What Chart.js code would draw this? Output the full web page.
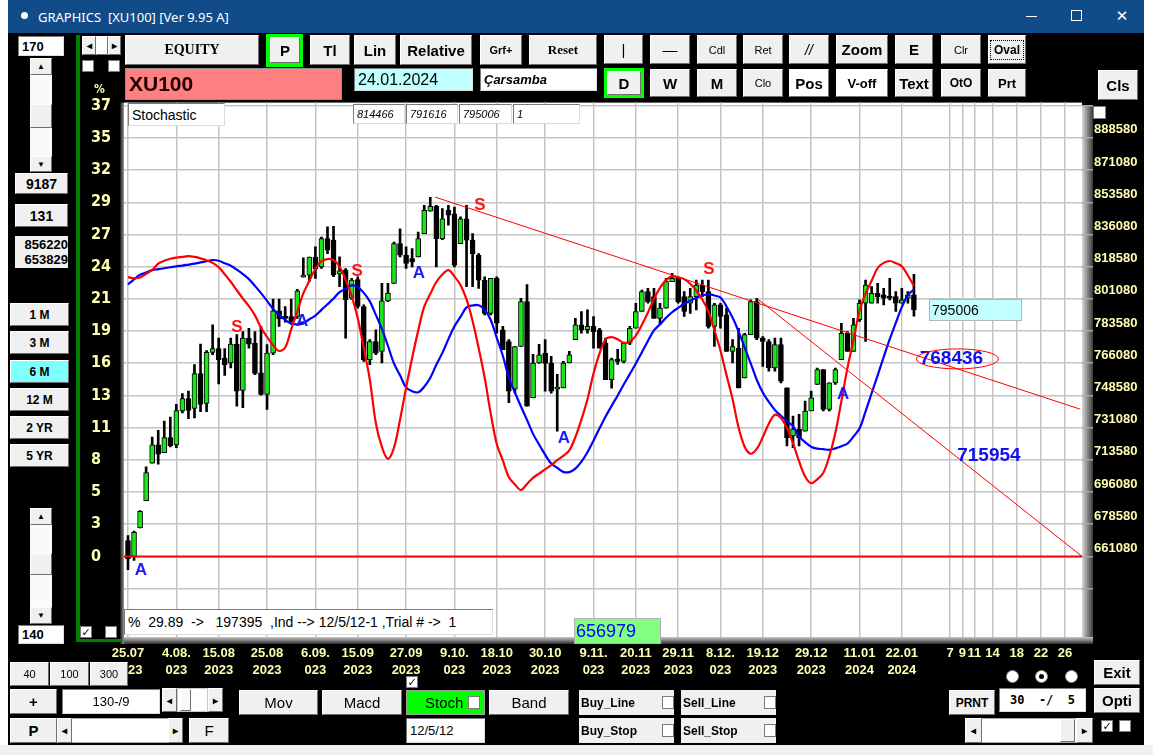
<!DOCTYPE html>
<html>
<head>
<meta charset="utf-8">
<script src="https://cdn.jsdelivr.net/npm/chart.js@4.4.1/dist/chart.umd.min.js"></script>
<style>
    body { margin: 0; width: 1153px; height: 755px; position: relative; overflow: hidden; background: #fff; }
    .b, .i, .p, .c, .r { position: absolute; box-sizing: border-box; display: flex; align-items: center; justify-content: center; white-space: pre; overflow: hidden; }
    .b { background: #f0f0f0; border: 1px solid; border-color: #fff #6e6e6e #6e6e6e #fff; font: bold 14px "Liberation Sans", Arial, sans-serif; color: #000; }
    .i { background: #fff; border: 1px solid; border-color: #7a7a7a #dcdcdc #dcdcdc #7a7a7a; font: 13px "Liberation Sans", Arial, sans-serif; justify-content: flex-start; padding-left: 3px; color: #000; }
    .p { font: 14px "Liberation Sans", Arial, sans-serif; }
    .c { background: #fff; border: 1px solid #7a7a7a; font: bold 11px "DejaVu Sans", sans-serif; }
    .r { background: #fff; border: 1px solid #8a8a8a; border-radius: 50%; }
    #app { position: absolute; left: 8px; top: 33px; width: 1136px; height: 712px; background: #000; }
    #grafico { position: absolute; left: 91px; top: 90px; }
</style>
</head>
<body>
<div id="app"></div>
<canvas id="grafico" width="1052" height="590"></canvas>
<script>
// --- DADOS (XU100, diário, 25.07.2023 - 24.01.2024) ---
const opens = [669700,661100,676600,691400,711800,721700,717500,725600,721700,740100,
    746900,741500,760500,744200,772000,774000,768900,766200,776500,751300,
    779700,777000,760800,749100,771600,794500,791500,791500,791500,812900,
    814000,823800,818500,833800,833000,814600,816700,801400,811600,796900,
    768000,777900,772500,800000,809500,831100,824800,823000,823900,836500,
    848800,851400,833800,849200,847300,831100,844600,833000,824800,811300,
    793200,812200,784300,777900,752000,775200,799600,747300,766200,771600,
    766000,752000,752700,766200,778900,787000,784300,786100,784300,777000,
    757200,768000,767100,777000,785100,794200,805000,802300,790500,796000,
    810400,812200,802300,798700,802300,808600,805000,786100,797800,792400,
    772500,774300,758100,781600,799600,779700,777900,763500,776200,752700,
    726500,730300,729200,740100,754500,762600,741000,755400,768000,782400,
    772500,789700,798700,798700,804100,803200,802300,802300,798700,801400,
    803200];
const highs = [672400,674800,686000,709800,726000,729600,734700,736800,743700,749600,
    750900,765300,776500,772900,787000,779700,774000,779700,781600,783300,
    785100,783300,786100,776200,801000,801000,796900,801000,806200,823400,
    823800,829300,834700,840200,840500,823900,817600,812200,813100,797800,
    778900,784300,809500,809500,832000,839200,829300,828400,837400,851900,
    856220,851900,850100,851900,851000,845600,851900,836500,825700,813100,
    812200,813100,786100,778900,775200,801400,808800,770900,776300,778900,
    769800,760100,767100,772500,790500,794200,795100,791500,785100,779700,
    768900,773600,776200,786100,798700,805900,806800,806800,798700,812200,
    814900,813100,805000,806800,811300,811300,811300,798700,798700,796000,
    778900,785100,782400,800500,801400,780600,778900,779700,779700,752700,
    737400,738300,745500,750900,763500,762600,755400,763500,787800,783300,
    790500,800500,811300,807700,809500,806800,812200,805000,806800,805000,
    814466];
const lows = [653829,658900,676600,691400,711800,711200,717500,720600,720200,739100,
    735900,736400,739700,739700,770700,754800,759400,763500,742800,741900,
    774300,759900,748700,741000,770700,786100,788400,788400,790500,812900,
    810400,812200,817600,825700,813100,807700,779700,800800,796000,767100,
    765300,770700,766200,799600,809500,823900,817600,818500,823900,836500,
    848800,818500,833300,841100,818500,831100,807700,807700,806800,792400,
    792400,782400,773400,744600,750000,775200,742800,747300,766000,750900,
    749800,729200,752700,766200,778900,782400,782400,774300,774300,757200,
    752500,765500,766200,776200,785100,794200,798700,790500,787000,796000,
    810400,798700,791500,793200,795100,802300,785100,775200,785100,772500,
    766200,752700,758100,781600,778900,764400,761700,761700,755400,721100,
    720200,721100,729200,740100,754500,740100,740100,754500,768000,772500,
    772500,788800,777900,798700,798700,797800,800500,794200,798700,798700,
    791616];
const closes = [659800,674200,685600,706700,721700,716600,725600,721100,740400,746900,
    740400,760500,743700,772000,774000,768000,765300,776500,750900,779700,
    776500,760500,749100,771600,794500,790200,790500,788800,805500,814000,
    823800,817300,833800,827500,814000,816300,800500,811300,796900,768000,
    777900,771600,800000,804100,831100,824800,820300,821200,833800,849200,
    851400,833800,844600,846500,819400,844600,833000,825700,811300,793200,
    812200,787800,773400,750900,775200,799600,742800,766200,770700,766000,
    750900,753100,766200,770700,787000,784300,786100,783300,774300,757200,
    768000,767100,777000,785100,794200,805000,799600,790500,796000,810400,
    812200,799600,794200,802300,808600,805000,786100,797800,791500,772500,
    775200,752700,781600,799600,779700,777900,763500,776200,756300,725600,
    730300,725600,740100,747300,762600,741000,755400,762600,782400,772500,
    787000,798700,808600,804100,802300,801400,801400,798700,800500,803200,
    795006];

// Stochastic 12/5/12 (%K vermelho, %D azul)
const stochK = [90.4,90.0,90.3,91.8,93.4,96.0,97.2,98.0,98.5,98.8,
    99.1,98.8,98.2,97.4,96.3,94.5,91.6,88.5,85.0,81.6,
    78.4,74.6,69.5,65.7,62.3,59.9,61.3,68.9,76.1,83.7,
    88.9,93.9,97.0,97.9,97.5,94.7,89.3,82.7,73.5,61.1,
    48.1,30.0,20.2,15.3,19.9,31.5,44.7,57.0,68.3,78.2,
    83.5,88.4,91.5,93.3,90.7,87.2,81.2,72.3,61.1,48.8,
    34.0,21.4,14.6,7.7,4.7,2.4,4.9,7.4,9.2,10.9,
    12.7,14.7,16.5,18.8,24.3,31.5,39.9,50.6,58.9,64.7,
    65.6,64.7,63.3,63.7,66.2,70.7,75.8,81.5,86.0,89.2,
    90.8,90.3,89.6,87.7,84.9,81.2,76.2,68.5,60.1,49.9,
    40.0,28.2,20.3,17.4,19.4,24.2,29.8,33.5,32.2,28.0,
    21.7,14.3,8.0,5.2,6.8,9.4,16.3,26.0,39.1,52.8,
    64.4,76.5,83.6,88.9,94.2,96.3,97.1,96.2,94.9,91.1,
    86.8];
const stochD = [87.4,89.5,91.4,92.3,93.3,93.7,94.1,94.5,94.9,95.2,
    95.6,96.0,96.5,97.0,97.5,97.2,96.2,95.1,93.5,91.7,
    89.6,86.8,83.8,80.6,77.3,74.9,72.7,71.2,70.9,71.3,
    73.0,74.5,76.9,79.2,81.6,84.2,85.6,87.0,86.4,83.9,
    80.4,74.8,69.0,62.0,54.7,49.8,44.8,43.2,42.8,45.1,
    48.8,54.2,59.1,64.8,70.1,74.0,77.9,78.7,78.8,76.9,
    72.7,65.3,57.9,48.9,42.7,36.9,31.4,25.6,21.2,17.0,
    13.3,11.6,9.9,9.8,11.2,14.1,18.0,22.8,27.9,32.8,
    37.2,41.5,46.0,50.3,54.7,59.3,64.0,68.4,70.9,73.6,
    75.9,77.7,79.4,80.7,81.8,82.8,83.4,82.8,82.0,78.3,
    73.7,67.9,61.4,54.8,48.0,42.7,38.8,35.5,33.1,30.9,
    28.8,24.5,22.2,20.3,19.5,19.3,19.0,19.6,20.5,21.6,
    24.5,27.8,34.9,42.4,49.8,57.4,64.8,71.5,78.0,83.0,
    85.2];

// eixos
const priceTicks = [643580,661080,678580,696080,713580,731080,748580,766080,783580,801080,818580,836080,853580,871080,888580,906080];
const pctLabels = ['','0','3','5','8','11','13','16','19','21','24','27','29','32','35','37'];
const xTickIdx = [0,8,15,23,31,38,46,54,61,69,77,84,91,98,105,113,121,128,136,138,140,143,147,151,155];
const xTickTop = ['25.07','4.08.','15.08','25.08','6.09.','15.09','27.09','9.10.','18.10','30.10','9.11.','20.11','29.11','8.12.','19.12','29.12','11.01','22.01','7','9','11','14','18','22','26'];
const xTickBottom = ['2023','023','2023','2023','023','2023','2023','023','2023','2023','023','2023','2023','023','2023','2023','2024','2024','','','','','','',''];

// sinais S / A
const sigIdx = [2.15, 18, 28.8, 37.9, 48.1, 58.2, 72.1, 96.1, 118.3];
const sigPrice = [653500, 785500, 788800, 816300, 814700, 852000, 725500, 816900, 749300];
const sigText = ['A','S','A','S','A','S','A','S','A'];

// linhas de tendência
const trend1X = [50.8, 157.5], trend1Y = [856400, 741100];
const trend2X = [104, 157.8], trend2Y = [801400, 661080];
const baseLevel = 661080;
const projVals = [768436, 715954];
const projIdx = [136.2, 142.4];
const lastBoxIdx = 132.5;

const narrow = '"Liberation Sans Narrow", "Arial Narrow", "DejaVu Sans Condensed", sans-serif';
const plain = '"Liberation Sans", Arial, sans-serif';
const yellow = '#ffffb0';

// --- FUNDO DO GRÁFICO ---
const fundoPlugin = {
    id: 'fundo',
    beforeDraw(chart) {
        const { ctx, chartArea: a } = chart;
        ctx.save();
        ctx.fillStyle = '#fff';
        ctx.fillRect(a.left, a.top, a.right - a.left, a.bottom - a.top);
        let g = ctx.createLinearGradient(a.right, 0, a.right + 11, 0);
        g.addColorStop(0, '#d8d8d8'); g.addColorStop(1, '#3a3a3a');
        ctx.fillStyle = g;
        ctx.fillRect(a.right, a.top + 3, 11, a.bottom - a.top + 3);
        g = ctx.createLinearGradient(0, a.bottom, 0, a.bottom + 7);
        g.addColorStop(0, '#c8c8c8'); g.addColorStop(1, '#303030');
        ctx.fillStyle = g;
        ctx.fillRect(a.left, a.bottom, a.right - a.left + 11, 7);
        g = ctx.createLinearGradient(a.left - 4, 0, a.left, 0);
        g.addColorStop(0, '#111'); g.addColorStop(1, '#9a9a9a');
        ctx.fillStyle = g;
        ctx.fillRect(a.left - 4, a.top, 4, a.bottom - a.top + 7);
        ctx.restore();
    }
};

// --- TEXTOS SOBRE O GRÁFICO ---
const notasPlugin = {
    id: 'notas',
    afterDatasetsDraw(chart) {
        const { ctx, scales: { x, y } } = chart;
        ctx.save();
        ctx.textAlign = 'center';
        ctx.textBaseline = 'middle';
        ctx.font = 'bold 17px ' + plain;
        sigText.forEach((t, k) => {
            ctx.fillStyle = t === 'S' ? '#ff1414' : '#1c1cff';
            ctx.fillText(t, x.getPixelForValue(sigIdx[k]), y.getPixelForValue(sigPrice[k]));
        });
        ctx.font = 'bold 19px ' + plain;
        ctx.fillStyle = '#1010f0';
        projVals.forEach((v, k) => ctx.fillText(String(v), x.getPixelForValue(projIdx[k]), y.getPixelForValue(v)));
        const ox = x.getPixelForValue(projIdx[0]) + 6, oy = y.getPixelForValue(projVals[0]);
        ctx.strokeStyle = '#ff0000';
        ctx.lineWidth = 1;
        ctx.beginPath();
        ctx.ellipse(ox, oy, 41, 10, 0, 0, Math.PI * 2);
        ctx.stroke();
        const last = closes[closes.length - 1];
        const bx = x.getPixelForValue(lastBoxIdx), by = y.getPixelForValue(last);
        ctx.fillStyle = '#c4ffff';
        ctx.fillRect(bx, by - 11, 93, 22);
        ctx.strokeStyle = '#b4b4b4';
        ctx.strokeRect(bx + 0.5, by - 10.5, 92, 21);
        ctx.fillStyle = '#000';
        ctx.textAlign = 'left';
        ctx.font = '14px ' + plain;
        ctx.fillText(String(last), bx + 3, by + 1);
        ctx.restore();
    }
};

const isUp = i => closes[i] >= opens[i];
const idx = opens.map((_, i) => i);

new Chart(document.getElementById('grafico').getContext('2d'), {
    type: 'bar',
    data: {
        datasets: [
            { type: 'line', data: trend1X.map((v, k) => ({ x: v, y: trend1Y[k] })), yAxisID: 'y', borderColor: '#ff0000', borderWidth: 1, pointRadius: 0, order: 0 },
            { type: 'line', data: trend2X.map((v, k) => ({ x: v, y: trend2Y[k] })), yAxisID: 'y', borderColor: '#ff0000', borderWidth: 1, pointRadius: 0, order: 0 },
            { type: 'line', data: [{ x: -1, y: baseLevel }, { x: 160, y: baseLevel }], yAxisID: 'y', borderColor: '#ff0000', borderWidth: 2, pointRadius: 0, order: 0 },
            { type: 'line', data: stochK.map((v, i) => ({ x: i, y: v })), yAxisID: 'ys', borderColor: '#ff0000', borderWidth: 2.2, pointRadius: 0, tension: 0.35, order: 1 },
            { type: 'line', data: stochD.map((v, i) => ({ x: i, y: v })), yAxisID: 'ys', borderColor: '#0000ff', borderWidth: 2.2, pointRadius: 0, tension: 0.35, order: 1 },
            {
                data: idx.map(i => ({ x: i, y: [opens[i], closes[i]] })), yAxisID: 'y',
                barThickness: 5, grouped: false, minBarLength: 2, borderSkipped: false,
                backgroundColor: c => isUp(c.dataIndex) ? '#18e618' : '#000',
                borderColor: '#000', borderWidth: 1, order: 2
            },
            {
                data: idx.map(i => ({ x: i, y: [lows[i], highs[i]] })), yAxisID: 'y',
                barThickness: 2, grouped: false, backgroundColor: '#000', order: 3
            }
        ]
    },
    options: {
        responsive: false,
        animation: false,
        devicePixelRatio: 1,
        layout: { padding: { top: 10 } },
        plugins: { legend: { display: false }, tooltip: { enabled: false } },
        scales: {
            x: {
                type: 'linear', min: -0.66, max: 157.8, offset: false,
                afterBuildTicks: s => { s.ticks = xTickIdx.map(v => ({ value: v })); },
                afterFit: s => { s.height = 43; },
                grid: { color: '#c4c4c4', lineWidth: 1.5, drawTicks: false, offset: false },
                border: { display: false },
                ticks: {
                    autoSkip: false, maxRotation: 0, minRotation: 0, padding: 8, color: yellow,
                    font: { family: plain, size: 13, weight: 'bold', lineHeight: 1.3 },
                    callback: (v, i) => xTickBottom[i] ? [xTickTop[i], xTickBottom[i]] : xTickTop[i]
                }
            },
            y: {
                position: 'right', min: 617262, max: 907758,
                afterBuildTicks: s => { s.ticks = priceTicks.map(v => ({ value: v })); },
                afterFit: s => { s.width = 61; },
                grid: { color: '#c4c4c4', lineWidth: 1.5, tickLength: 11, tickColor: '#a8a8a8' },
                border: { display: false },
                ticks: {
                    color: yellow, padding: 1, labelOffset: -8,
                    font: { family: plain, size: 13, weight: 'bold' },
                    callback: (v, i) => (i === 0 || i === priceTicks.length - 1) ? '' : String(v)
                }
            },
            yl: {
                position: 'left', min: 617262, max: 907758,
                afterBuildTicks: s => { s.ticks = priceTicks.map(v => ({ value: v })); },
                afterFit: s => { s.width = 33; },
                grid: { display: false },
                border: { display: false },
                ticks: {
                    color: yellow, crossAlign: 'far',
                    font: { family: narrow, size: 16, weight: 'bold' },
                    callback: (v, i) => pctLabels[i]
                }
            },
            ys: { display: false, min: -58.4, max: 162.6 }
        }
    },
    plugins: [fundoPlugin, notasPlugin]
});

// --- JANELA E BOTÕES ---
function caixa(tipo, texto, x, y, w, h, css) {
    const d = document.createElement('div');
    d.className = tipo;
    d.innerHTML = texto;
    d.style.cssText += `left:${x}px;top:${y}px;width:${w}px;height:${h}px;` + (css || '');
    document.body.appendChild(d);
}
const f11 = 'font:11px "Liberation Sans",Arial,sans-serif;';
const f15 = 'font-size:15px;';
const serif = 'font:bold 14px "Liberation Serif",serif;';
const lbl = 'background:#f0f0f0;font:bold 12px "Liberation Sans",Arial,sans-serif;justify-content:flex-start;padding-left:2px';
const ital = 'font:italic 11px "Liberation Sans",Arial,sans-serif';
const ui = [
    // barra de título
    ['p', '', 8, 0, 1136, 33, 'background:#124c88'],
    ['p', '', 21, 12, 7, 7, 'background:#fff;border-radius:50%'],
    ['p', 'GRAPHICS  [XU100] [Ver 9.95 A]', 38, 7, 300, 20, 'color:#fff;font:13px "Noto Sans",sans-serif;justify-content:flex-start'],
    ['p', '', 1026, 16, 11, 1, 'background:#fff'],
    ['p', '', 1071, 10, 11, 11, 'border:1px solid #fff'],
    ['p', '✕', 1113, 5, 18, 22, 'color:#fff;font:15px "DejaVu Sans",sans-serif'],
    // painel esquerdo
    ['i', '170', 18, 36, 46, 20, 'font-weight:bold'],
    ['p', '', 30, 58, 22, 114, 'background:#fafafa'],
    ['b', '▲', 30, 58, 22, 17, 'font-size:8px'],
    ['b', '', 30, 104, 22, 24, ''],
    ['b', '▼', 30, 156, 22, 16, 'font-size:8px'],
    ['b', '9187', 15, 173, 53, 21, ''],
    ['b', '131', 15, 204, 53, 23, ''],
    ['p', '856220\n653829', 15, 236, 53, 32, 'background:#f0f0f0;font:bold 13px "Liberation Sans",Arial,sans-serif;display:block;text-align:right;line-height:15px;padding-top:1px'],
    ['b', '1 M', 10, 303, 59, 23, 'font-size:12px'],
    ['b', '3 M', 10, 331, 59, 23, 'font-size:12px'],
    ['b', '6 M', 10, 360, 59, 23, 'font-size:12px;background:#80ffff'],
    ['b', '12 M', 10, 388, 59, 23, 'font-size:12px'],
    ['b', '2 YR', 10, 416, 59, 23, 'font-size:12px'],
    ['b', '5 YR', 10, 444, 59, 23, 'font-size:12px'],
    ['p', '', 30, 508, 22, 116, 'background:#fafafa'],
    ['b', '▲', 30, 508, 22, 17, 'font-size:8px'],
    ['b', '', 30, 553, 22, 22, ''],
    ['b', '▼', 30, 607, 22, 17, 'font-size:8px'],
    ['i', '140', 18, 625, 46, 19, 'font-weight:bold'],
    ['p', '', 76, 35, 4, 607, 'background:#008000'],
    ['p', '', 76, 639, 46, 3, 'background:#008000'],
    ['b', '◂', 82, 36, 14, 19, 'font-size:10px'],
    ['b', '', 96, 36, 12, 19, 'background:#fff'],
    ['b', '▸', 108, 36, 13, 19, 'font-size:10px'],
    ['c', '', 82, 60, 12, 12, ''],
    ['c', '', 108, 60, 12, 12, ''],
    ['p', '%', 93, 83, 13, 12, `color:${yellow};font:bold 12px ${narrow}`],
    // barra de ferramentas
    ['b', 'EQUITY', 125, 35, 134, 30, serif],
    ['p', '', 266, 34, 37, 33, 'background:#00ff00'],
    ['b', 'P', 270, 37, 30, 26, f15],
    ['b', 'Tl', 310, 35, 40, 30, f15],
    ['b', 'Lin', 354, 35, 42, 30, f15],
    ['b', 'Relative', 400, 35, 72, 30, f15],
    ['b', 'Grf+', 480, 35, 42, 30, 'font-size:11px'],
    ['b', 'Reset', 529, 35, 68, 30, 'font:bold 13px "Liberation Serif",serif'],
    ['b', '|', 604, 35, 39, 29, 'font-weight:normal;' + f15],
    ['b', '—', 650, 35, 40, 29, 'font-weight:normal;' + f15],
    ['b', 'Cdl', 697, 35, 40, 29, f11],
    ['b', 'Ret', 743, 35, 40, 29, f11],
    ['b', '//', 789, 35, 40, 29, 'font:italic 14px "Liberation Sans",Arial,sans-serif'],
    ['b', 'Zoom', 836, 35, 52, 29, f15],
    ['b', 'E', 895, 35, 38, 29, f15],
    ['b', 'Clr', 941, 35, 40, 29, f11],
    ['b', '<span style="outline:1px dotted #000;padding:2px 3px">Oval</span>', 988, 35, 38, 29, 'font-size:12px'],
    ['p', 'XU100', 125, 68, 217, 32, 'background:#ff8080;border:1px solid #909090;font:bold 21px "Liberation Sans",Arial,sans-serif;color:#200;justify-content:flex-start;padding-left:3px'],
    ['i', '24.01.2024', 354, 68, 119, 23, 'background:#c0ffff;font-size:16px'],
    ['i', 'Çarsamba', 480, 68, 117, 23, 'font:bold italic 13px "Liberation Sans",Arial,sans-serif'],
    ['p', '', 604, 68, 40, 30, 'background:#00ff00'],
    ['b', 'D', 607, 71, 34, 24, f15],
    ['b', 'W', 650, 69, 40, 28, f15],
    ['b', 'M', 697, 69, 40, 28, f15],
    ['b', 'Clo', 743, 69, 40, 28, f11],
    ['b', 'Pos', 789, 69, 40, 28, 'background:#fff;' + f15],
    ['b', 'V-off', 836, 69, 52, 28, 'background:#fff;font-size:13px'],
    ['b', 'Text', 895, 69, 38, 28, f15],
    ['b', 'OtO', 941, 69, 40, 28, 'font-size:12px'],
    ['b', 'Prt', 988, 69, 38, 28, 'font-size:13px'],
    ['b', 'Cls', 1098, 70, 40, 30, f15],
    // caixas sobre o gráfico
    ['i', 'Stochastic', 128, 103, 97, 23, 'font-size:14px'],
    ['i', '814466', 353, 104, 52, 20, ital],
    ['i', '791616', 406, 104, 52, 20, ital],
    ['i', '795006', 459, 104, 53, 20, ital],
    ['i', '1', 513, 104, 67, 20, ital],
    ['c', '', 1093, 106, 13, 13, ''],
    ['p', '', 1106, 100, 37, 23, 'background:#000'],
    ['i', '%  29.89  ->   197395  ,Ind --> 12/5/12-1 ,Trial # ->  1', 124, 609, 369, 26, 'font-size:14px'],
    ['p', '656979', 574, 618, 87, 26, 'background:#80ff80;border:1px solid #b0b0b0;color:#0000ff;font:18px "Liberation Sans",Arial,sans-serif;justify-content:flex-start;padding-left:1px'],
    ['c', '✓', 80, 626, 12, 12, ''],
    ['c', '', 105, 626, 12, 12, ''],
    // parte inferior
    ['b', '40', 10, 662, 39, 24, f11],
    ['b', '100', 50, 662, 39, 24, f11],
    ['b', '300', 90, 662, 38, 24, f11],
    ['b', '+', 10, 689, 47, 25, f15],
    ['i', '130-/9', 62, 689, 98, 25, 'justify-content:center;padding:0'],
    ['b', '◂', 162, 688, 15, 24, 'font-size:10px'],
    ['p', '', 177, 688, 31, 24, 'background:#fff;border:1px solid #c8c8c8'],
    ['b', '', 180, 689, 11, 22, 'background:#fafafa'],
    ['b', '▸', 208, 688, 15, 24, 'font-size:10px'],
    ['b', 'Mov', 239, 690, 79, 25, 'font-weight:normal;' + f15],
    ['b', 'Macd', 322, 690, 80, 25, 'font-weight:normal;' + f15],
    ['c', '✓', 406, 676, 12, 12, ''],
    ['p', 'Stoch', 406, 690, 79, 25, 'background:#00ff00;border:1px solid #a0a0a0;font-size:15px;justify-content:flex-start;padding-left:18px'],
    ['c', '', 468, 696, 12, 13, ''],
    ['b', 'Band', 489, 690, 80, 25, 'font-weight:normal;' + f15],
    ['i', '12/5/12', 406, 718, 79, 25, ''],
    ['p', 'Buy_Line', 579, 690, 95, 25, lbl],
    ['c', '', 662, 696, 12, 13, ''],
    ['p', 'Sell_Line', 681, 690, 95, 25, lbl],
    ['c', '', 764, 696, 12, 13, ''],
    ['p', 'Buy_Stop', 579, 718, 95, 25, lbl],
    ['c', '', 662, 724, 12, 13, ''],
    ['p', 'Sell_Stop', 681, 718, 95, 25, lbl],
    ['c', '', 764, 724, 12, 13, ''],
    ['b', 'P', 10, 718, 47, 25, f15],
    ['p', '', 57, 718, 126, 25, 'background:#fff;border:1px solid #a8a8a8'],
    ['b', '◂', 57, 718, 15, 25, 'font-size:10px'],
    ['b', '▸', 168, 718, 15, 25, 'font-size:10px'],
    ['b', 'F', 189, 718, 40, 25, 'font-weight:normal;' + f15],
    ['r', '', 1006, 670, 13, 13, ''],
    ['r', '<span style="width:5px;height:5px;border-radius:50%;background:#000"></span>', 1035, 670, 13, 13, ''],
    ['r', '', 1065, 670, 13, 13, ''],
    ['b', 'PRNT', 949, 690, 46, 25, 'font-size:12px'],
    ['i', '30  -/  5', 999, 688, 87, 24, 'font:bold 12px "DejaVu Sans Mono",monospace;justify-content:center;padding:0'],
    ['b', 'Exit', 1094, 660, 46, 25, f15],
    ['b', 'Opti', 1094, 688, 46, 25, f15],
    ['p', '', 965, 718, 128, 25, 'background:#fff;border:1px solid #a8a8a8'],
    ['b', '◂', 965, 718, 17, 25, 'font-size:10px'],
    ['b', '', 1060, 719, 15, 23, ''],
    ['b', '▸', 1076, 718, 17, 25, 'font-size:10px'],
    ['c', '✓', 1101, 720, 12, 12, ''],
    ['c', '', 1119, 720, 12, 12, ''],
    ['p', '', 0, 745, 1153, 10, 'background:#f0f0f0']
];
ui.forEach(u => caixa(...u));
</script>
</body>
</html>
